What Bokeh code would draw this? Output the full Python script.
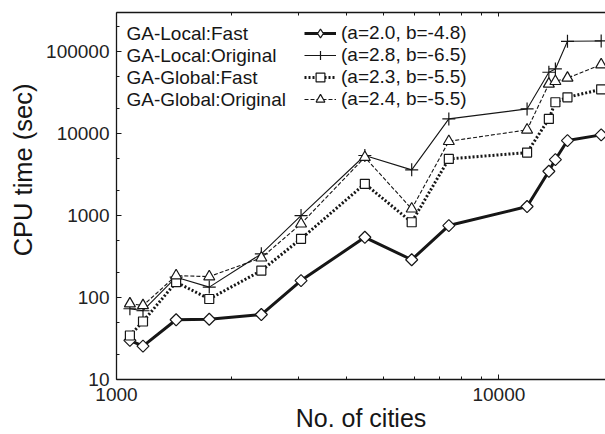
import numpy as np
from bokeh.plotting import figure
from bokeh.models import (LogAxis, FixedTicker, Legend, LegendItem, Label,
                          Range1d, PrintfTickFormatter, Title)
from bokeh.embed import file_html
from bokeh.resources import INLINE

# ---------------- data ----------------
cities = [1084, 1173, 1432, 1748, 2392, 3038, 4461, 5915, 7397,
          11849, 13509, 14051, 15112, 18512]

local_fast = [30, 25.5, 53.5, 54.3, 62, 161, 543, 289, 755,
              1288, 3467, 4820, 8220, 9640]
local_orig = [73, 69, 177, 134, 341, 1000, 5400, 3610, 15100,
              20000, 56000, 61500, 133600, 135000]
global_fast = [34.4, 51, 154, 96, 213, 520, 2440, 829, 4910,
               5860, 15100, 24100, 27700, 34700]
global_orig = [84, 80, 185, 180, 305, 793, 5140, 1208, 8050,
               11100, 40300, 43400, 47700, 69300]

series_names = ["GA-Local:Fast", "GA-Local:Original",
                "GA-Global:Fast", "GA-Global:Original"]
fit_labels = ["(a=2.0, b=-4.8)", "(a=2.8, b=-6.5)",
              "(a=2.3, b=-5.5)", "(a=2.4, b=-5.5)"]

x_major = [1000, 10000]
x_minor = [2000, 3000, 4000, 5000, 6000, 7000, 8000, 9000]
y_major = [10, 100, 1000, 10000, 100000]
y_minor = [20, 50, 200, 500, 2000, 5000, 20000, 50000, 200000]

# ---------------- figure ----------------
W, H = 605, 434
B_LEFT, B_TOP, B_BOTTOM = 115, 12, 55
FH = H - B_TOP - B_BOTTOM  # frame height

INK = "#161616"
FONT = "Liberation Sans"

p = figure(width=W, height=H, x_axis_type="log", y_axis_type="log",
           x_range=Range1d(1000, 19000), y_range=Range1d(10, 3e5),
           output_backend="svg", toolbar_location=None,
           min_border_left=B_LEFT, min_border_top=B_TOP,
           min_border_right=0, min_border_bottom=B_BOTTOM)
p.outline_line_color = None
p.xgrid.visible = False
p.ygrid.visible = False
p.background_fill_color = "white"
p.border_fill_color = "white"

xt = FixedTicker(ticks=x_major, minor_ticks=x_minor)
yt = FixedTicker(ticks=y_major, minor_ticks=y_minor)

for ax, t in ((p.xaxis[0], xt), (p.yaxis[0], yt)):
    ax.ticker = t
    ax.formatter = PrintfTickFormatter(format="%d")
    ax.axis_line_color = INK
    ax.axis_line_width = 1.3
    ax.major_tick_line_color = INK
    ax.minor_tick_line_color = INK
    ax.major_tick_in = 5
    ax.major_tick_out = 0
    ax.minor_tick_in = 3
    ax.minor_tick_out = 0
    ax.major_label_text_font = FONT
    ax.major_label_text_font_size = "19px"
    ax.major_label_text_color = "#222222"
p.xaxis.major_label_standoff = 8
p.yaxis.major_label_standoff = 7

p.xaxis.axis_label = "No. of cities"
p.xaxis.axis_label_standoff = 0
p.xaxis.axis_label_text_font = FONT
p.xaxis.axis_label_text_font_size = "25px"
p.xaxis.axis_label_text_font_style = "normal"
p.xaxis.axis_label_text_color = INK

top = LogAxis(ticker=xt, formatter=PrintfTickFormatter(format="%d"),
              major_label_text_color=None, major_label_text_font_size="1px",
              major_label_standoff=0, axis_line_color=INK, axis_line_width=1.3,
              major_tick_in=4, major_tick_out=0, minor_tick_in=3,
              minor_tick_out=0, major_tick_line_color=INK,
              minor_tick_line_color=INK)
p.add_layout(top, "above")

ytitle = Title(text="CPU time (sec)", align="right", offset=71, standoff=13,
               text_font=FONT, text_font_size="25.5px",
               text_font_style="normal", text_color=INK)
p.add_layout(ytitle, "left")

# ---------------- series ----------------
line_styles = [
    dict(line_width=3.0, line_dash="solid"),
    dict(line_width=1.1, line_dash="solid"),
    dict(line_width=3.0, line_dash="2 2"),
    dict(line_width=1.1, line_dash="4 2"),
]
marker_styles = [
    dict(marker="square", angle=np.pi / 4, size=8.5),
    dict(marker="cross", size=13),
    dict(marker="square", size=9),
    dict(marker="triangle", size=11),
]
# marker shown in the legend key (legend keys are drawn unrotated)
legend_markers = ["diamond", None, None, None]
values = [local_fast, local_orig, global_fast, global_orig]

items = []
for vals, ls, ms, lm, fit in zip(values, line_styles, marker_styles,
                                 legend_markers, fit_labels):
    lr = p.line(cities, vals, line_color=INK, **ls)
    sr = p.scatter(cities, vals, fill_color="white", line_color=INK,
                   line_width=1.2, **ms)
    if lm is None:
        items.append(LegendItem(label=fit, renderers=[lr, sr]))
    else:
        kr = p.scatter(cities, vals, marker=lm, size=0, fill_color="white",
                       line_color=INK, line_width=1.2)
        items.append(LegendItem(label=fit, renderers=[lr, kr]))

ROW = 22
FIRST_TOP = 10
legend = Legend(items=items, location=(188, FH - FIRST_TOP - 4 * ROW),
                glyph_width=32, glyph_height=ROW, label_height=ROW,
                label_standoff=5, spacing=0, padding=0, margin=0,
                border_line_color=None, background_fill_alpha=0,
                label_text_font=FONT, label_text_font_size="19px",
                label_text_color=INK)
p.add_layout(legend, "center")

for i, name in enumerate(series_names):
    p.add_layout(Label(x=10, y=FH - FIRST_TOP - ROW * i - ROW / 2,
                       x_units="screen", y_units="screen", text=name,
                       text_font=FONT, text_font_size="19px",
                       text_color=INK, text_baseline="middle",
                       text_align="left"))

open("out.html", "w").write(file_html(p, INLINE))
